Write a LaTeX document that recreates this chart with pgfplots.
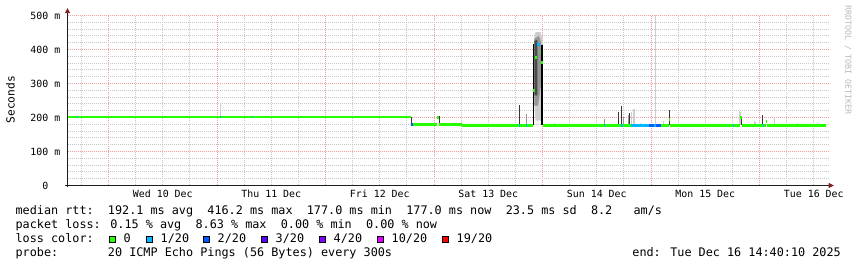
\documentclass[border=0pt]{standalone}
\usepackage{pgfplots}
\pgfplotsset{compat=1.18}
\usepackage{fontspec}
\newfontfamily\mono{DejaVu Sans Mono}
\definecolor{mgrid}{RGB}{238,160,160}
\definecolor{ngrid}{RGB}{200,200,200}
\definecolor{arrowc}{RGB}{128,31,31}
\definecolor{axisc}{RGB}{31,31,31}
\definecolor{l0}{HTML}{26FF00}
\definecolor{l1}{HTML}{00B8FF}
\definecolor{l2}{HTML}{0059FF}
\definecolor{l3}{HTML}{5E00FF}
\definecolor{l4}{HTML}{7E00FF}
\definecolor{l10}{HTML}{DD00FF}
\definecolor{l19}{HTML}{FF0000}
\definecolor{smokeL}{RGB}{205,205,205}
\definecolor{smokeM}{RGB}{150,150,150}
\definecolor{smokeD}{RGB}{55,55,55}
\definecolor{smokeC}{RGB}{75,75,75}
\definecolor{wm}{RGB}{185,185,185}
\begin{document}
\begin{tikzpicture}[x=1pt,y=1pt]
\useasboundingbox (0,0) rectangle (857,267);
\begin{axis}[
  at={(67.5pt,81.5pt)}, anchor=south west,
  scale only axis, width=761pt, height=170pt,
  xmin=-9.07, xmax=159.26, ymin=0, ymax=500,
  axis line style={draw=none},
  tick style={draw=none},
  tick pos=left,
  xtick={0,24,...,144}, xticklabels={},
  minor xtick={-6,6,12,18,30,36,42,54,60,66,78,84,90,102,108,114,126,132,138,150,156},
  extra x ticks={12,36,60,84,108,132,156},
  extra x tick labels={Wed 10 Dec,Thu 11 Dec,Fri 12 Dec,Sat 13 Dec,Sun 14 Dec,Mon 15 Dec,Tue 16 Dec},
  extra x tick style={grid=none},
  ytick={0,100,...,500},
  yticklabels={0\hphantom{~m},100 m,200 m,300 m,400 m,500 m},
  minor y tick num=4,
  grid=both,
  major grid style={color=mgrid, line width=1pt, dash pattern=on 1pt off 1pt},
  minor grid style={color=ngrid, line width=1pt, dash pattern=on 1pt off 1pt},
  tick label style={font=\mono\fontsize{9.9}{12}\selectfont},
  x tick label style={anchor=base, inner sep=0pt, yshift=-12.3pt},
  y tick label style={anchor=east, inner sep=0pt, xshift=-7pt},
]
% smoke: big spike
\addplot[fill=smokeL, draw=none] coordinates {(94.2,441) (94.45,451) (95.55,451) (95.75,441) (96.0,432) (96.0,191) (94.45,191) (94.2,241)} -- cycle;
\addplot[fill=smokeM, draw=none] coordinates {(94.2,432) (95.2,440) (95.7,420) (95.7,300) (95.0,235) (94.2,235)} -- cycle;
\addplot[fill=smokeC, draw=none] coordinates {(94.2,426) (94.85,428) (94.85,265) (94.2,265)} -- cycle;
\addplot[black, line width=1.2pt, unbounded coords=jump] coordinates {
(94.05,177.5) (94.05,417) (94.05,nan)
(95.9,177.5) (95.9,412)};
% smoke: small spikes, light
\addplot[smokeL, line width=1pt, unbounded coords=jump] coordinates {
(24.77,201.5) (24.77,244) (24.77,nan)
(98.65,177) (98.65,183) (98.65,nan)
(115.6,177) (115.6,215) (115.6,nan)
(116.2,177) (116.2,226) (116.2,nan)
(116.45,177) (116.45,226) (116.45,nan)
(117.7,177) (117.7,185) (117.7,nan)
(121.0,177) (121.0,510) (121.0,nan)
(122.7,177) (122.7,190) (122.7,nan)
(139.5,177) (139.5,218) (139.5,nan)
(139.8,177) (139.8,215) (139.8,nan)
(143.0,177) (143.0,190) (143.0,nan)
(143.2,177) (143.2,188) (143.2,nan)
(147.3,177) (147.3,200) (147.3,nan)
(152.3,177) (152.3,185) (152.3,nan)
(156.8,177) (156.8,183)};
% smoke: small spikes, mid
\addplot[smokeM, line width=1pt, unbounded coords=jump] coordinates {
(92.46,177) (92.46,209) (92.46,nan)
(109.75,177) (109.75,196) (109.75,nan)
(113.9,177) (113.9,200) (113.9,nan)
(115.1,177) (115.1,208)};
% smoke: small spikes, dark
\addplot[smokeD, line width=1pt, unbounded coords=jump] coordinates {
(67.02,178) (67.02,201) (67.02,nan)
(73.27,178) (73.27,205) (73.27,nan)
(91.02,177) (91.02,238) (91.02,nan)
(112.8,177) (112.8,216) (112.8,nan)
(113.5,177) (113.5,235) (113.5,nan)
(115.35,177) (115.35,212) (115.35,nan)
(124.1,177) (124.1,223) (124.1,nan)
(140.0,177) (140.0,203) (140.0,nan)
(144.6,177) (144.6,206)};
% median rtt, loss 0
\addplot[l0, line width=2.9pt, jump mark left] coordinates {
(-9.07,201.5) (67.02,178.5) (70.78,180) (72.77,200) (73.2,178.5) (78.3,177.5)
(93.95,279) (94.4,377) (94.85,415) (95.5,392) (95.75,361) (96.0,177.5)
(124.0,195) (124.25,177.5) (139.75,199) (140.2,177.5) (145.4,188) (145.6,177.5)
(158.67,177.5)};
% median rtt, loss 1/20
\addplot[l1, line width=2.9pt, unbounded coords=jump] coordinates {
(-6.95,201.5) (-6.75,201.5) (-6.75,nan)
(24.7,201.5) (24.9,201.5) (24.9,nan)
(31.75,201.5) (31.95,201.5) (31.95,nan)
(90.9,177.5) (91.1,177.5) (91.1,nan)
(92.35,177.5) (92.55,177.5) (92.55,nan)
(94.85,415) (95.5,415) (95.5,nan)
(109.6,177.5) (109.85,177.5) (109.85,nan)
(113.45,177.5) (113.7,177.5) (113.7,nan)
(115.5,177.5) (119.5,177.5) (119.5,nan)
(120.6,177.5) (121.2,177.5) (121.2,nan)
(138.1,177.5) (138.3,177.5) (138.3,nan)
(144.8,177.5) (145.0,177.5)};
% median rtt, loss 2/20
\addplot[l2, line width=2.9pt, unbounded coords=jump] coordinates {
(67.02,178.5) (67.3,178.5) (67.3,nan)
(119.5,177.5) (120.6,177.5) (120.6,nan)
(121.2,177.5) (122.2,177.5)};
\end{axis}
% axes with arrows
\draw[axisc, line width=1pt] (65,81.5) -- (829,81.5);
\draw[axisc, line width=1pt] (67.5,79.5) -- (67.5,254);
\fill[arrowc] (828.5,84.2) -- (833.8,81.5) -- (828.5,78.8) -- cycle;
\fill[arrowc] (64.8,253.8) -- (67.5,258.8) -- (70.2,253.8) -- cycle;
% axis title and watermark
\node[rotate=90, font=\mono\fontsize{11.2}{13}\selectfont, inner sep=0pt] at (10.5,167.3) {Seconds};
\node[rotate=-90, font=\mono\fontsize{8.3}{10}\selectfont, text=wm, inner sep=0pt] at (848,207) {RRDTOOL / TOBI OETIKER};
% legend
\begin{scope}[every node/.style={font=\mono\fontsize{11.8}{14}\selectfont, inner sep=0pt, anchor=base west}]
\node at (15.4,52) {median rtt:~~192.1 ms avg~~416.2 ms max~~177.0 ms min~~177.0 ms now~~23.5 ms sd~~8.2~~~am/s};
\node at (15.4,38.7) {packet loss: 0.15 \% avg~~8.63 \% max~~0.00 \% min~~0.00 \% now};
\node at (15.4,24.7) {loss color:};
\node at (15.4,10.3) {probe:~~~~~~~20 ICMP Echo Pings (56 Bytes) every 300s};
\node[anchor=base east] at (841,10.3) {end: Tue Dec 16 14:40:10 2025};
\foreach \bx/\bc/\bl in {109/l0/0,146/l1/1\slash 20,203/l2/2\slash 20,261/l3/3\slash 20,319/l4/4\slash 20,377/l10/10\slash 20,442/l19/19\slash 20}{
  \filldraw[fill=\bc, draw=black, line width=1pt] (\bx+0.5,24.2) rectangle (\bx+6.5,30.8);
  \node at (\bx+14.5,24.7) {\bl};
}
\end{scope}
\end{tikzpicture}
\end{document}
